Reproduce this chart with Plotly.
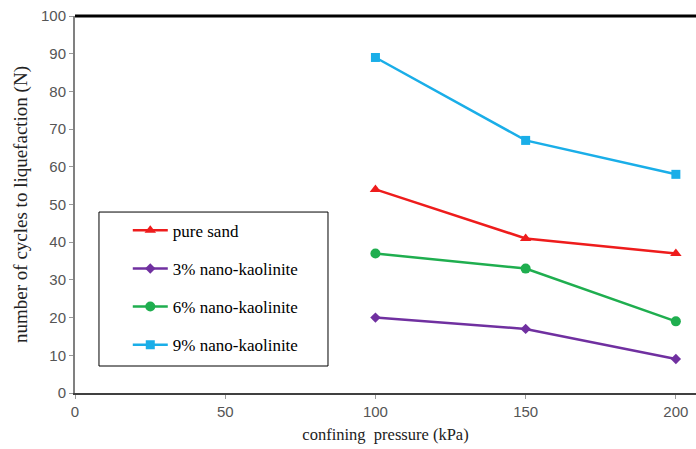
import plotly.graph_objects as go

pressure = [100, 150, 200]
pure_sand = [54, 41, 37]
kaolinite_3 = [20, 17, 9]
kaolinite_6 = [37, 33, 19]
kaolinite_9 = [89, 67, 58]

x_ticks = [0, 50, 100, 150, 200]
y_ticks = [0, 10, 20, 30, 40, 50, 60, 70, 80, 90, 100]

series = [
    ("pure sand", pure_sand, "#ee1c1c", "triangle-up", 10),
    ("3% nano-kaolinite", kaolinite_3, "#7030a0", "diamond", 8),
    ("6% nano-kaolinite", kaolinite_6, "#1fae4f", "circle", 10),
    ("9% nano-kaolinite", kaolinite_9, "#1aaee8", "square", 9),
]

fig = go.Figure()
for i, (name, vals, color, sym, size) in enumerate(series):
    fig.add_trace(go.Scatter(
        x=pressure, y=vals, name=name, mode="lines+markers",
        line=dict(color=color, width=2.5),
        marker=dict(color=color, symbol=sym, size=size),
        legendgroup=f"g{i}",
    ))

tickfont = dict(family="Liberation Sans, Arial, sans-serif", size=15, color="#555555")
serif = "Liberation Serif, Times New Roman, serif"

fig.update_layout(
    width=696, height=449,
    margin=dict(l=75, r=0, t=16, b=56),
    plot_bgcolor="white", paper_bgcolor="white",
    showlegend=True,
    legend=dict(
        x=0.085, y=0.478, xanchor="left", yanchor="top",
        bgcolor="rgba(0,0,0,0)",
        font=dict(family=serif, size=17, color="black"),
        tracegroupgap=13, traceorder="grouped", itemwidth=35,
    ),
    xaxis=dict(
        range=[0, 206.7], tickvals=x_ticks, ticks="outside", ticklen=4,
        tickcolor="#999999", showgrid=False, zeroline=False,
        showline=True, linecolor="#404040", linewidth=2,
        tickfont=tickfont,
        title=dict(text="confining  pressure (kPa)", font=dict(family=serif, size=16.5, color="#222222"), standoff=9),
    ),
    yaxis=dict(
        range=[0, 100], tickvals=y_ticks, ticks="outside", ticklen=4,
        tickcolor="#999999", showgrid=False, zeroline=False,
        showline=True, linecolor="#808080", linewidth=2,
        tickfont=tickfont,
        title=dict(text="number of cycles to liquefaction (N)", font=dict(family=serif, size=19, color="#222222"), standoff=8),
    ),
    shapes=[
        dict(type="line", xref="paper", yref="paper", x0=0, x1=1, y0=1, y1=1,
             line=dict(color="black", width=3)),
        dict(type="rect", xref="paper", yref="paper", x0=0.0386, x1=0.4074, y0=0.0716, y1=0.48,
             line=dict(color="black", width=1), fillcolor="rgba(0,0,0,0)", layer="below"),
    ],
)

fig.write_html("out.html", config={"displayModeBar": False},
               post_script="document.body.style.margin='0';document.body.style.overflow='hidden';")
